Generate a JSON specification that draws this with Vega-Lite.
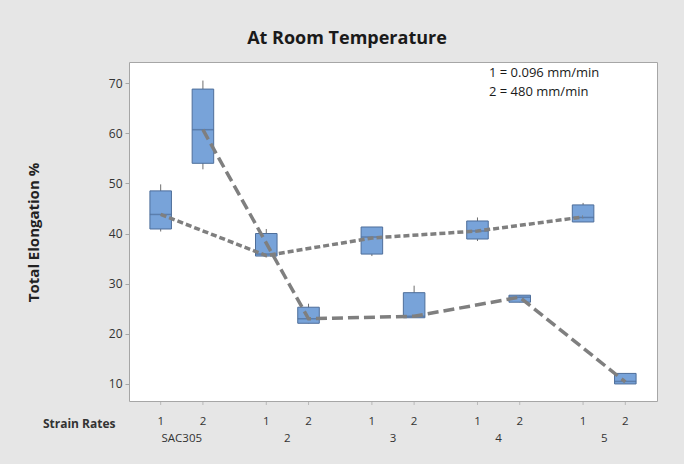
{
  "$schema": "https://vega.github.io/schema/vega-lite/v6.json",
  "width": 528,
  "height": 339,
  "autosize": {"type": "none"},
  "padding": {"left": 129, "top": 62, "right": 27, "bottom": 63},
  "background": "#E6E6E6",
  "title": {
    "text": "At Room Temperature",
    "font": "Open Sans",
    "fontSize": 18,
    "fontWeight": "bold",
    "color": "#1a1a1a",
    "anchor": "middle",
    "dx": -46,
    "offset": 14
  },
  "config": {
    "view": {"stroke": "#A6A6A6", "fill": "white"},
    "font": "Open Sans"
  },
  "data": {
    "values": [
      {"group": "SAC305", "rate": "1", "lo": 40.4, "q1": 40.9, "median": 43.8, "q3": 48.5, "hi": 49.8, "mean": 43.8},
      {"group": "SAC305", "rate": "2", "lo": 52.8, "q1": 54.0, "median": 60.7, "q3": 68.8, "hi": 70.5, "mean": 60.7},
      {"group": "2", "rate": "1", "lo": 35.5, "q1": 35.5, "median": 35.9, "q3": 40.0, "hi": 40.9, "mean": 35.6},
      {"group": "2", "rate": "2", "lo": 22.1, "q1": 22.1, "median": 23.0, "q3": 25.3, "hi": 26.0, "mean": 23.0},
      {"group": "3", "rate": "1", "lo": 35.5, "q1": 35.9, "median": 39.3, "q3": 41.3, "hi": 41.3, "mean": 39.1},
      {"group": "3", "rate": "2", "lo": 23.2, "q1": 23.2, "median": 23.5, "q3": 28.2, "hi": 29.6, "mean": 23.5},
      {"group": "4", "rate": "1", "lo": 38.5, "q1": 38.9, "median": 40.5, "q3": 42.5, "hi": 43.2, "mean": 40.5},
      {"group": "4", "rate": "2", "lo": 26.3, "q1": 26.3, "median": 27.3, "q3": 27.7, "hi": 27.7, "mean": 27.3},
      {"group": "5", "rate": "1", "lo": 42.3, "q1": 42.3, "median": 43.2, "q3": 45.7, "hi": 46.1, "mean": 43.3},
      {"group": "5", "rate": "2", "lo": 10.0, "q1": 10.0, "median": 10.5, "q3": 12.1, "hi": 12.1, "mean": 10.4}
    ]
  },
  "encoding": {
    "x": {
      "field": "group",
      "type": "nominal",
      "sort": ["SAC305", "2", "3", "4", "5"],
      "scale": {"paddingInner": 0, "paddingOuter": 0},
      "axis": {
        "title": "Strain Rates",
        "titleX": -14,
        "titleY": 22,
        "titleAlign": "right",
        "titleBaseline": "middle",
        "titleAnchor": null,
        "titleFontSize": 12,
        "titleFontWeight": "bold",
        "titleColor": "#333333",
        "titleFont": "Open Sans",
        "labelAngle": 0,
        "labelFontSize": 11.5,
        "labelColor": "#333333",
        "labelPadding": 31,
        "ticks": false,
        "domain": false,
        "grid": false
      }
    },
    "xOffset": {
      "field": "rate",
      "type": "nominal",
      "scale": {"paddingInner": 0.49, "paddingOuter": 0.495}
    }
  },
  "layer": [
    {
      "mark": {"type": "rule", "color": "#6E6E6E", "strokeWidth": 1},
      "encoding": {
        "y": {
          "field": "lo",
          "type": "quantitative",
          "scale": {"domain": [6.6, 74.2], "nice": false, "zero": false},
          "axis": {
            "title": "Total Elongation %",
            "titleFontSize": 15,
            "titleFontWeight": "bold",
            "titleColor": "#222222",
            "titleX": -96,
            "titleY": 170,
            "titleAngle": -90,
            "titleAlign": "center",
            "titleBaseline": "middle",
            "values": [10, 20, 30, 40, 50, 60, 70],
            "labelFontSize": 12,
            "labelColor": "#333333",
            "tickColor": "#A6A6A6",
            "tickSize": 4,
            "labelPadding": 3,
            "domain": false,
            "grid": false
          }
        },
        "y2": {"field": "hi"}
      }
    },
    {
      "mark": {"type": "bar", "fill": "#78A3D9", "stroke": "#4E6E9A", "strokeWidth": 1},
      "encoding": {
        "y": {"field": "q1", "type": "quantitative"},
        "y2": {"field": "q3"}
      }
    },
    {
      "mark": {"type": "tick", "color": "#4E6E9A", "thickness": 1.5, "size": 21.5, "orient": "horizontal"},
      "encoding": {
        "y": {"field": "median", "type": "quantitative"}
      }
    },
    {
      "mark": {"type": "line", "color": "#7F7F7F", "strokeWidth": 3.5, "strokeCap": "butt"},
      "encoding": {
        "y": {"field": "mean", "type": "quantitative"},
        "strokeDash": {
          "field": "rate",
          "type": "nominal",
          "scale": {"domain": ["1", "2"], "range": [[6, 3], [11, 5]]},
          "legend": {
            "title": null,
            "orient": "none",
            "legendX": 347,
            "legendY": 4,
            "symbolOpacity": 0,
            "symbolSize": 0,
            "symbolStrokeWidth": 0,
            "labelOffset": 0,
            "labelFontSize": 13,
            "labelColor": "#1a1a1a",
            "rowPadding": 5,
            "labelExpr": "datum.label == '1' ? '1 = 0.096 mm/min' : '2 = 480 mm/min'"
          }
        }
      }
    },
    {
      "mark": {"type": "tick", "color": "#A6A6A6", "orient": "vertical", "size": 4, "thickness": 1, "yOffset": 2},
      "encoding": {
        "y": {"datum": 6.6, "type": "quantitative"}
      }
    },
    {
      "mark": {"type": "text", "fontSize": 11.5, "color": "#333333", "baseline": "middle", "dy": 21},
      "encoding": {
        "y": {"datum": 6.6, "type": "quantitative"},
        "text": {"field": "rate"}
      }
    }
  ]
}
